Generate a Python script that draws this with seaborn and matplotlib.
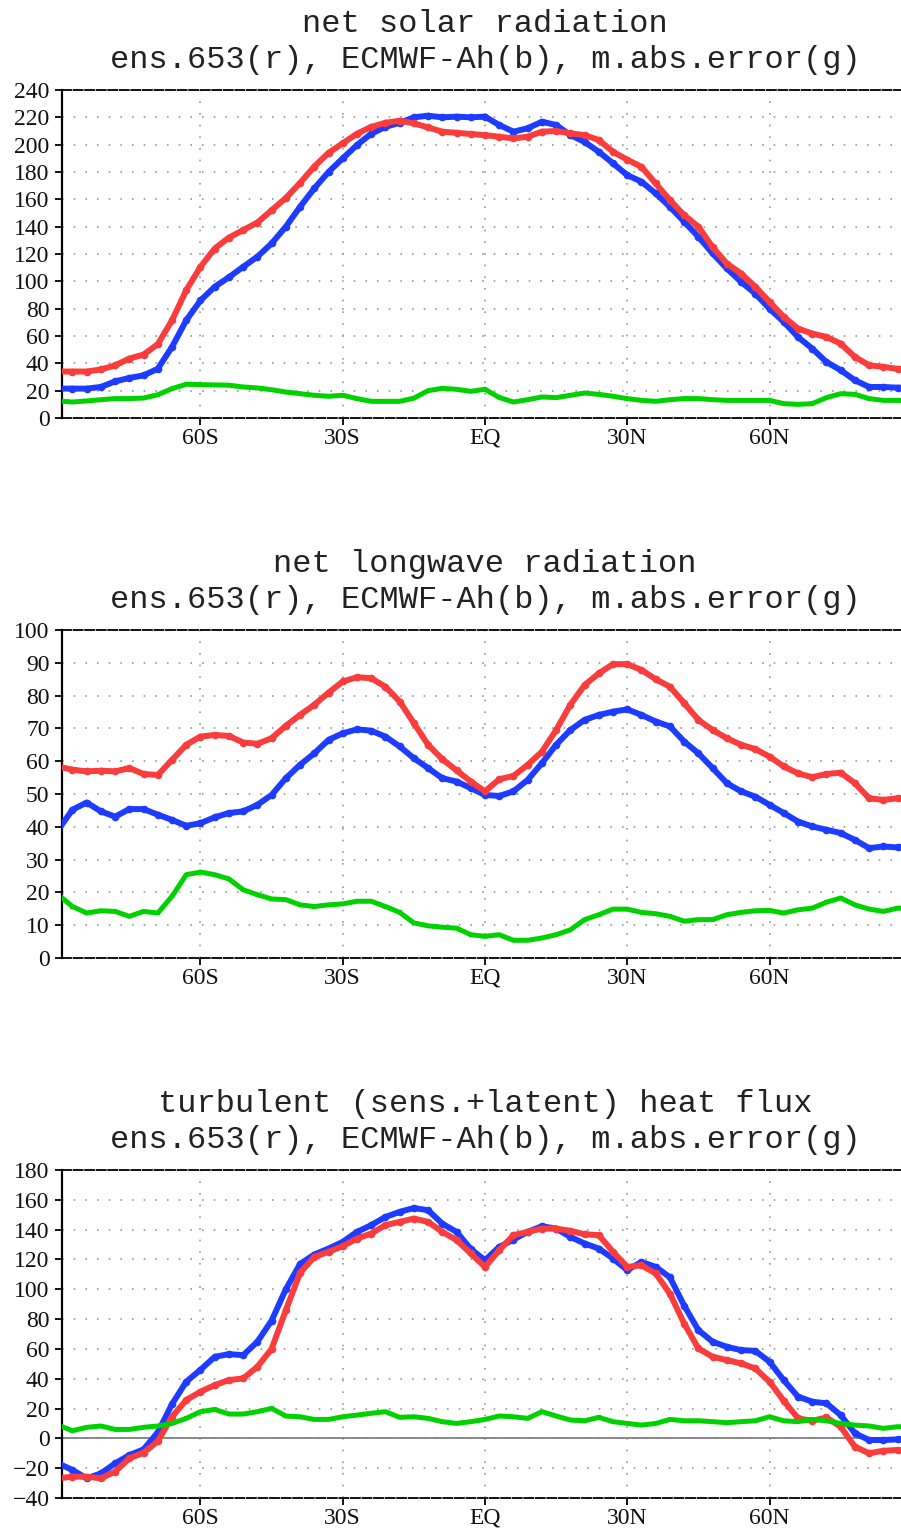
import matplotlib
matplotlib.use("Agg")
import seaborn as sns
import matplotlib.pyplot as plt

OUTPUT_PATH = "out.png"

# latitude grid of the sampled values (deg, south negative)
LAT = list(range(-90, 91, 3))

XTICKS = [-60, -30, 0, 30, 60]
XTICK_LABELS = ["60S", "30S", "EQ", "30N", "60N"]

SUBTITLE = "ens.653(r), ECMWF-Ah(b), m.abs.error(g)"
TITLES = ["net solar radiation", "net longwave radiation",
          "turbulent (sens.+latent) heat flux"]

SOLAR_YTICKS = list(range(0, 241, 20))
LW_YTICKS = list(range(0, 101, 10))
TURB_YTICKS = list(range(-40, 181, 20))

# net solar radiation
SOLAR_ENS = [34, 34, 34, 35.5, 38.5, 43.5, 46.4, 54, 71.5, 93.5,
             110.6, 124, 132, 137.5, 143, 152, 161, 172, 184, 194,
             201, 208, 213, 216, 217.5, 215.6, 212.6, 209.5, 208.7, 207.8,
             207, 205.8, 204.6, 205.8, 209.5, 210, 208.3, 207, 203.4, 194.8,
             189, 183.8, 171.6, 159.4, 148.4, 140, 125, 113, 105.7, 96,
             85, 74, 65.4, 61.8, 59.3, 54.4, 44.7, 38.6, 37.4, 36,
             35.4]
SOLAR_ECM = [21.5, 21.5, 21.5, 22.7, 26.8, 29.3, 31.2, 36, 52, 71.5,
             86, 96, 103, 110.6, 118, 127.7, 140, 154.5, 168, 180,
             190, 199.7, 208, 213, 216, 220, 221.2, 220, 220.5, 220,
             220.5, 214.4, 209.5, 212, 216.8, 214.4, 207, 202, 194.8, 186.3,
             177.7, 172.9, 164.3, 154.5, 143.6, 132.6, 120.4, 109.4, 99.6, 91,
             80, 70.3, 59.3, 50.8, 41, 35, 27.6, 22.7, 22.7, 22.2,
             22]
SOLAR_MAE = [12.5, 11.7, 12.5, 13.4, 14.2, 14.2, 14.6, 17, 21.5, 24.7,
             24.4, 24.2, 24, 22.7, 22, 20.7, 19, 17.8, 16.6, 15.9,
             16.6, 14.2, 12.2, 12.2, 12.2, 14.5, 20, 21.7, 21, 19.5,
             21, 15, 11.7, 13.4, 15.4, 14.9, 16.6, 18.3, 17.3, 15.9,
             14.2, 12.9, 12.2, 13.4, 14.2, 14.2, 13.4, 12.9, 12.9, 12.9,
             12.9, 10.5, 10, 10.5, 14.9, 17.8, 17.3, 14.2, 12.9, 12.9,
             12.9]

# net longwave radiation
LW_ENS = [58.4, 57.4, 56.9, 57.1, 56.9, 57.9, 56.1, 55.8, 60.4, 65,
          67.5, 68, 67.7, 65.7, 65.3, 67, 70.8, 74.1, 77.2, 80.9,
          84.3, 85.6, 85.3, 82.7, 78.2, 71.6, 65, 60.6, 57.2, 53.8,
          50.8, 54.5, 55.5, 58.9, 62.9, 69.5, 77.2, 83.2, 86.8, 89.6,
          89.6, 87.8, 85, 82.7, 77.7, 72.6, 69.5, 67, 65, 63.7,
          61.4, 58.4, 56.3, 55.1, 56.1, 56.5, 53.3, 48.7, 48.2, 48.7,
          48.7]
LW_ECM = [39.1, 45.2, 47.4, 44.7, 43.1, 45.4, 45.4, 43.7, 42.1, 40.3,
          41.1, 42.9, 44.2, 44.7, 46.7, 49.7, 54.8, 58.9, 62.4, 66.5,
          68.5, 69.7, 69.3, 67.5, 64.5, 60.9, 57.9, 54.8, 53.8, 51.8,
          49.7, 49.4, 50.8, 54.3, 59.4, 65, 69.5, 72.6, 74.1, 75.1,
          75.8, 74.1, 72.1, 70.6, 66, 62.4, 57.9, 53.3, 50.8, 49.2,
          46.7, 44.2, 41.6, 40.1, 39.1, 38.1, 36, 33.5, 34, 33.7,
          33.7]
LW_MAE = [19.3, 15.7, 13.7, 14.4, 14.2, 12.7, 14.2, 13.7, 18.8, 25.4,
          26.2, 25.4, 24.1, 20.8, 19.3, 18, 17.8, 16.2, 15.7, 16.2,
          16.5, 17.3, 17.3, 15.7, 13.9, 10.7, 9.8, 9.4, 9.1, 7.1,
          6.6, 7.1, 5.4, 5.4, 6.1, 7.1, 8.6, 11.7, 13.2, 14.9,
          14.9, 13.9, 13.5, 12.7, 11.2, 11.7, 11.7, 13.2, 13.9, 14.4,
          14.5, 13.7, 14.7, 15.2, 17, 18.3, 16.2, 14.9, 14.2, 15.2,
          15.2]

# turbulent heat flux
TURB_ENS = [-26.8, -25.7, -25.7, -26.8, -22.3, -13.4, -9.6, -2, 14.5, 25.7,
            31.3, 35.7, 39.1, 40.2, 48, 60, 86, 111, 121.7, 125.1,
            128.9, 134, 137.4, 143, 145.2, 147.4, 145.2, 138.5, 133, 124,
            115, 126.2, 136.3, 138.5, 140.7, 140.7, 139.2, 136.9, 136.3, 125.1,
            115, 116.1, 110.6, 97, 77, 60.3, 54.7, 52.5, 50.3, 46.9,
            38, 25.2, 13.4, 11.8, 14, 7.8, -5.6, -10, -8.3, -7.8,
            -7.8]
TURB_ECM = [-16.8, -21.2, -26.8, -23.5, -16.8, -11.2, -7.4, 4, 23, 38,
            46, 54.7, 56.5, 55.8, 64.8, 79, 100, 117, 123.3, 127.3,
            131.8, 138.5, 143, 148.5, 151.9, 154.5, 153, 144, 138.5, 127,
            119.5, 128.4, 133.3, 138.5, 142.3, 140.7, 135.1, 130.7, 127.3, 120.6,
            112.8, 118.4, 115, 108, 89, 72.6, 64.8, 61.4, 59.2, 58.7,
            51.4, 39, 28, 24.6, 23.5, 15.6, 3.4, -1.1, -1.1, -0.7,
            -0.7]
TURB_MAE = [8.9, 5.1, 7.4, 8.3, 6, 6, 7.4, 8.3, 10, 13.4,
            17.9, 19.4, 16.3, 16.3, 17.9, 20.1, 15, 14.5, 12.7, 12.7,
            14.5, 15.6, 16.8, 17.9, 14.1, 14.5, 13.4, 11.2, 10, 11.2,
            12.7, 15, 14.5, 13.4, 17.9, 15, 12.3, 11.8, 14.1, 11.2,
            10, 8.9, 10, 12.7, 11.8, 11.8, 11.2, 10.5, 11.2, 11.8,
            14.5, 11.8, 11.2, 12.7, 11.8, 10, 8.9, 8.3, 6.7, 7.8,
            7.8]

RED = "#fa3c3c"
BLUE = "#1e3cff"
GREEN = "#00d200"

FIG_W, FIG_H = 901, 1530
PANEL_TOPS = [90, 630, 1170]   # pixel row of the top frame line
PANEL_H = 328
AX_LEFT = 62
LAT_PER_PX = 1 / 4.742
XLIM = ((AX_LEFT - 485) * LAT_PER_PX, (FIG_W - 485) * LAT_PER_PX)


def draw_panel(fig, top, title, ens, ecm, mae, yticks):
    ax = fig.add_axes([AX_LEFT / FIG_W, 1 - (top + PANEL_H) / FIG_H,
                       (FIG_W - AX_LEFT) / FIG_W, PANEL_H / FIG_H])

    sns.lineplot(x=LAT, y=ecm, ax=ax, color=BLUE, linewidth=4.3,
                 marker="o", markersize=5.5, markeredgewidth=0, zorder=3)
    sns.lineplot(x=LAT, y=ens, ax=ax, color=RED, linewidth=4.3,
                 marker="o", markersize=5.5, markeredgewidth=0, zorder=4)
    sns.lineplot(x=LAT, y=mae, ax=ax, color=GREEN, linewidth=3.6,
                 marker="s", markersize=3.5, markeredgewidth=0, zorder=5)

    if yticks[0] < 0:
        ax.axhline(0, color="#808080", linewidth=1.3, zorder=2)

    ax.set_xlim(*XLIM)
    ax.set_ylim(yticks[0], yticks[-1])
    ax.set_xticks(XTICKS)
    ax.set_xticklabels(XTICK_LABELS)
    ax.set_yticks(yticks)
    ax.set_xlabel("")
    ax.set_ylabel("")

    ax.grid(True, linestyle=(0, (1, 6)), color="#9a9a9a", linewidth=1.2)
    ax.tick_params(axis="both", which="major", direction="out", length=5,
                   width=1.3, color="black", labelsize=17, labelcolor="#111111",
                   bottom=True, left=True, top=False, right=False)
    ax.tick_params(axis="y", pad=4)
    ax.tick_params(axis="x", pad=2)

    for side in ("top", "bottom"):
        ax.spines[side].set_linestyle((0, (5, 1.4)))
        ax.spines[side].set_linewidth(1.3)
        ax.spines[side].set_color("black")
    ax.spines["left"].set_linewidth(1.6)
    ax.spines["left"].set_color("black")
    ax.spines["right"].set_visible(False)

    cx = 485 / FIG_W
    fig.text(cx, 1 - (top - 58) / FIG_H, title, ha="center", va="baseline",
             family="Liberation Mono", fontsize=23, color="#222222")
    fig.text(cx, 1 - (top - 22) / FIG_H, SUBTITLE, ha="center", va="baseline",
             family="Liberation Mono", fontsize=23, color="#222222")
    return ax


def main():
    sns.set_style("white")
    plt.rcParams["font.family"] = ["Liberation Serif", "DejaVu Serif"]
    fig = plt.figure(figsize=(FIG_W / 100, FIG_H / 100), dpi=100)

    series = [
        (SOLAR_ENS, SOLAR_ECM, SOLAR_MAE, SOLAR_YTICKS),
        (LW_ENS, LW_ECM, LW_MAE, LW_YTICKS),
        (TURB_ENS, TURB_ECM, TURB_MAE, TURB_YTICKS),
    ]
    for top, title, (ens, ecm, mae, yt) in zip(PANEL_TOPS, TITLES, series):
        draw_panel(fig, top, title, ens, ecm, mae, yt)

    fig.savefig(OUTPUT_PATH, dpi=100)


if __name__ == "__main__":
    main()
